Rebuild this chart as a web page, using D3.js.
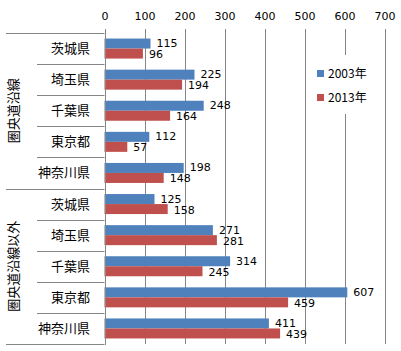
<!DOCTYPE html>
<html>
<head>
<meta charset="utf-8">
<script src="https://cdn.jsdelivr.net/npm/d3@7"></script>
<style>
  body { margin: 0; background: #fff; }
  text { font-family: "Noto Sans CJK JP", "DejaVu Sans", sans-serif; }
</style>
</head>
<body>
<svg id="chart" width="401" height="351"></svg>
<script>
const groups = ["圏央道沿線", "圏央道沿線以外"];
const prefs = ["茨城県", "埼玉県", "千葉県", "東京都", "神奈川県"];
const series = ["2003年", "2013年"];
const v2003 = [115, 225, 248, 112, 198, 125, 271, 314, 607, 411];
const v2013 = [96, 194, 164, 57, 148, 158, 281, 245, 459, 439];
const xTicks = [0, 100, 200, 300, 400, 500, 600, 700];

const colors = ["#4f81bd", "#c0504d"];
const gridColor = "#868686";

// rows = group x prefecture
let rows = [];
groups.forEach((g, gi) => {
    prefs.forEach((p, pi) => {
        let i = gi * prefs.length + pi;
        rows.push({ key: i, group: g, pref: p, vals: [v2003[i], v2013[i]] });
    });
});

let plotTop = 33, plotBottom = 344, plotLeft = 104.5, plotRight = 384.5;
let svg = d3.select("#chart");

let x = d3.scaleLinear().domain([0, 700]).range([plotLeft, plotRight]);
let y = d3.scaleBand().domain(rows.map(d => d.key)).range([plotTop, plotBottom]).paddingInner(0).paddingOuter(0);
let barH = 10;

//#region grid + axis
svg.append("g").selectAll("line").data(xTicks).join("line")
    .attr("x1", d => Math.round(x(d)) + 0.5).attr("x2", d => Math.round(x(d)) + 0.5)
    .attr("y1", plotTop - 4).attr("y2", plotBottom)
    .attr("stroke", gridColor).attr("stroke-width", 1);

let xAxis = d3.axisTop(x).tickValues(xTicks).tickSize(0).tickPadding(0);
let gx = svg.append("g").attr("transform", `translate(0,${plotTop})`).call(xAxis);
gx.select(".domain").remove();
gx.selectAll("text").attr("y", -13).attr("dy", 0)
    .attr("fill", "#000").style("font-family", "'DejaVu Sans', sans-serif").attr("font-size", 11);
//#endregion

// left table lines
let sep = svg.append("g").attr("stroke", gridColor).attr("stroke-width", 1);
rows.forEach((r, i) => {
    let yy = Math.round(y(r.key)) + 0.5;
    let x0 = (i % prefs.length === 0) ? 6 : 37;
    sep.append("line").attr("x1", x0).attr("x2", plotLeft).attr("y1", yy).attr("y2", yy);
});
sep.append("line").attr("x1", 6).attr("x2", plotLeft).attr("y1", plotBottom + 0.5).attr("y2", plotBottom + 0.5);

// bars
let bars = svg.append("g");
rows.forEach(r => {
    let cy = y(r.key) + y.bandwidth() / 2;
    r.vals.forEach((v, si) => {
        let by = cy - barH + si * barH;
        bars.append("rect")
            .attr("x", x(0)).attr("y", by)
            .attr("width", x(v) - x(0)).attr("height", barH)
            .attr("fill", colors[si]);
        bars.append("text")
            .attr("x", x(v) + 6).attr("y", by + barH / 2 + (si === 0 ? 0.5 : 1.5))
            .attr("dominant-baseline", "middle")
            .attr("font-size", 11)
            .style("font-family", "'DejaVu Sans', sans-serif")
            .attr("fill", "#000")
            .text(v);
    });
});

// axis line at 0
svg.append("line").attr("x1", Math.round(x(0)) + 0.5).attr("x2", Math.round(x(0)) + 0.5)
    .attr("y1", plotTop).attr("y2", plotBottom + 1).attr("stroke", gridColor);

// category labels
svg.append("g").selectAll("text").data(rows).join("text")
    .attr("x", 90).attr("y", d => y(d.key) + y.bandwidth() / 2 + 1)
    .attr("text-anchor", "end").attr("dominant-baseline", "middle")
    .attr("font-size", 13).attr("fill", "#000")
    .text(d => d.pref);

// group labels, rotated
groups.forEach((g, gi) => {
    let y0 = y(gi * prefs.length), y1 = y(gi * prefs.length + prefs.length - 1) + y.bandwidth();
    let cy = (y0 + y1) / 2;
    svg.append("text")
        .attr("transform", `translate(14,${cy}) rotate(-90)`)
        .attr("text-anchor", "middle").attr("dominant-baseline", "middle")
        .attr("font-size", 13).attr("fill", "#000")
        .text(g);
});

// legend
let lg = svg.append("g");
lg.append("rect").attr("x", 311).attr("y", 55).attr("width", 68).attr("height", 59).attr("fill", "#fff");
series.forEach((s, i) => {
    let ly = 73.5 + i * 24;
    lg.append("rect").attr("x", 317).attr("y", ly - 3.5).attr("width", 7).attr("height", 7).attr("fill", colors[i]);
    lg.append("text").attr("x", 328).attr("y", ly + 1)
        .attr("dominant-baseline", "middle").attr("font-size", 12).attr("fill", "#000")
        .text(s);
});
</script>
</body>
</html>
